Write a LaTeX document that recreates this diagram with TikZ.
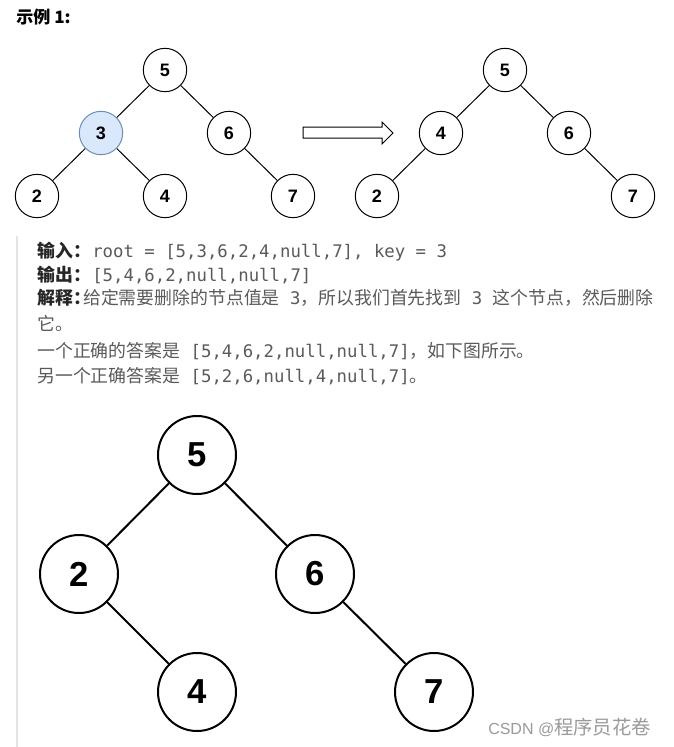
\documentclass[tikz,border=0pt]{standalone}
\usepackage{fontspec}
\newfontfamily\cjk{Noto Sans CJK SC}
\newfontfamily\mono{DejaVu Sans Mono}
\newfontfamily\arial{Liberation Sans}
\definecolor{txtgray}{HTML}{5A5A5A}
\definecolor{lblcol}{HTML}{262626}
\definecolor{hlfill}{HTML}{DAE8FC}
\definecolor{hldraw}{HTML}{6C8EBF}
\definecolor{barcol}{HTML}{E3E3E3}
\definecolor{wmcol}{HTML}{9A9A9A}
\newcommand{\mfont}{\mono\fontsize{13pt}{14pt}\selectfont}
\begin{document}
\begin{tikzpicture}[x=0.75pt,y=-0.75pt,
  tnode/.style={circle,draw=black,line width=0.75pt,minimum size=32.5pt,inner sep=0pt,
    font=\arial\bfseries\fontsize{13.5pt}{14pt}\selectfont},
  hlnode/.style={tnode,fill=hlfill,draw=hldraw},
  bnode/.style={circle,draw=black,line width=1.5pt,minimum size=58.5pt,inner sep=0pt,
    font=\arial\bfseries\fontsize{26pt}{28pt}\selectfont},
  tedge/.style={line width=0.75pt},
  bedge/.style={line width=1.5pt},
  lbl/.style={anchor=base west,inner sep=0pt,text=lblcol,font=\cjk\bfseries\fontsize{13.4pt}{14pt}\selectfont},
  txt/.style={anchor=base west,inner sep=0pt,text=txtgray,font=\cjk\fontsize{13.4pt}{14pt}\selectfont},
  mtxt/.style={txt,font=\mfont}]
\useasboundingbox (0,0) rectangle (674,747);
\fill[white] (0,0) rectangle (674,747);

% title
\node[lbl,text=black,font=\cjk\bfseries\fontsize{12.8pt}{14pt}\selectfont] (title) at (16,23) {示例 1:};

% top-left tree
\node[tnode]  (a5) at (165,70) {5};
\node[hlnode] (a3) at (101,133) {3};
\node[tnode]  (a6) at (229,133) {6};
\node[tnode]  (a2) at (37,196) {2};
\node[tnode]  (a4) at (165,196) {4};
\node[tnode]  (a7) at (293,196) {7};
\draw[tedge] (a5) -- (a3);
\draw[tedge] (a5) -- (a6);
\draw[tedge] (a3) -- (a2);
\draw[tedge] (a3) -- (a4);
\draw[tedge] (a6) -- (a7);

% arrow
\draw[line width=0.75pt,line join=miter] (303,127) -- (382,127) -- (382,122) -- (393,133) -- (382,144) -- (382,138) -- (303,138) -- cycle;

% top-right tree
\node[tnode] (b5) at (505,70) {5};
\node[tnode] (b4) at (441,133) {4};
\node[tnode] (b6) at (569,133) {6};
\node[tnode] (b2) at (377,196) {2};
\node[tnode] (b7) at (633,196) {7};
\draw[tedge] (b5) -- (b4);
\draw[tedge] (b5) -- (b6);
\draw[tedge] (b4) -- (b2);
\draw[tedge] (b6) -- (b7);

% quote bar
\fill[barcol] (15.5,236) rectangle (18,747);

% text block
\node[lbl] (l1) at (37,257) {输入：};
\node[mtxt] (v1) at (92,257) {root = [5,3,6,2,4,null,7], key = 3};
\node[lbl] (l2) at (37,281) {输出：};
\node[mtxt] (v2) at (92,281) {[5,4,6,2,null,null,7]};
\node[lbl] (l3) at (37,304) {解释：};
\node[txt] (v3) at (83,304) {给定需要删除的节点值是{\mfont\ 3}，所以我们首先找到{\mfont\ 3\ }这个节点，然后删除};
\node[txt] (v4) at (37,330) {它。};
\node[txt] (v5) at (37,357) {一个正确的答案是{\mfont\ [5,4,6,2,null,null,7]}，如下图所示。};
\node[txt] (v6) at (37,382) {另一个正确答案是{\mfont\ [5,2,6,null,4,null,7]}。};

% bottom tree
\node[bnode] (c5) at (197,455) {5};
\node[bnode] (c2) at (79,574) {2};
\node[bnode] (c6) at (315,574) {6};
\node[bnode] (c4) at (197,692) {4};
\node[bnode] (c7) at (434,692) {7};
\draw[bedge] (c5) -- (c2);
\draw[bedge] (c5) -- (c6);
\draw[bedge] (c2) -- (c4);
\draw[bedge] (c6) -- (c7);

% watermark
\node[anchor=base west,inner sep=0pt,text=wmcol] (wm) at (488,734)
  {{\arial\fontsize{12pt}{14pt}\selectfont CSDN @}{\cjk\fontsize{14.5pt}{16pt}\selectfont 程序员花卷}};
\end{tikzpicture}
\end{document}
